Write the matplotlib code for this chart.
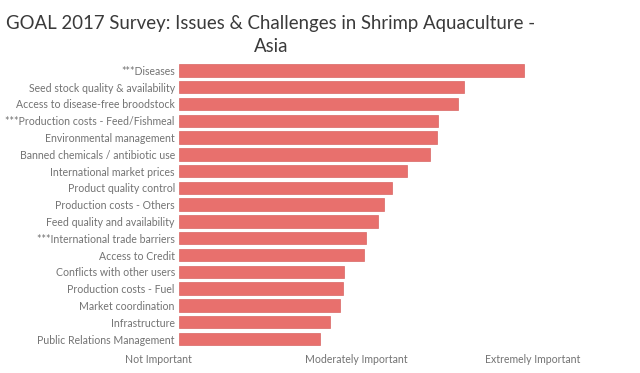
import matplotlib
matplotlib.use('Agg')
import matplotlib.pyplot as plt
from matplotlib.transforms import ScaledTranslation

# survey items, top to bottom
issues = [
    '***Diseases',
    'Seed stock quality & availability',
    'Access to disease-free broodstock',
    '***Production costs - Feed/Fishmeal',
    'Environmental management',
    'Banned chemicals / antibiotic use',
    'International market prices',
    'Product quality control',
    'Production costs - Others',
    'Feed quality and availability',
    '***International trade barriers',
    'Access to Credit',
    'Conflicts with other users',
    'Production costs - Fuel',
    'Market coordination',
    'Infrastructure',
    'Public Relations Management',
]
# mean importance score (1 = not important, 5 = extremely important)
scores = [4.90, 4.22, 4.15, 3.93, 3.92, 3.84, 3.58, 3.41, 3.32,
          3.25, 3.11, 3.09, 2.86, 2.85, 2.82, 2.71, 2.59]
tick_values = [1, 3, 5]
tick_labels = ['Not Important', 'Moderately Important', 'Extremely Important']

plt.rcParams['font.family'] = ['Lato', 'DejaVu Sans']

fig = plt.figure(figsize=(6.4, 3.73), dpi=100)
ax = fig.add_axes([179 / 640, 25.6 / 373, 398 / 640, 285.4 / 373])

y = list(range(len(issues)))
ax.barh(y, [s - 1 for s in scores], left=1, height=0.74,
        color='#E8706D', edgecolor='#D86664', linewidth=0.5)
ax.set_xlim(1, 5.5)
ax.set_ylim(len(issues) - 0.5, -0.5)

ax.set_yticks(y)
ax.set_yticklabels(issues, fontsize=7.6, color='#737373')
ax.set_xticks(tick_values)
ax.set_xticklabels(tick_labels, fontsize=7.6, color='#737373')
ax.tick_params(length=0, pad=3)
ax.tick_params(axis='x', pad=5)
# Tableau nudges the first axis label left
first = ax.get_xticklabels()[0]
first.set_transform(first.get_transform() +
                    ScaledTranslation(-21 / 100, 0, fig.dpi_scale_trans))

for s in ax.spines.values():
    s.set_visible(False)

fig.text(271 / 640, 1 - 23 / 373,
         'GOAL 2017 Survey: Issues & Challenges in Shrimp Aquaculture -',
         ha='center', va='center', fontsize=13.4, color='#3a3a3a')
fig.text(271 / 640, 1 - 47 / 373, 'Asia',
         ha='center', va='center', fontsize=13.4, color='#3a3a3a')

fig.savefig('out.png', dpi=100)
